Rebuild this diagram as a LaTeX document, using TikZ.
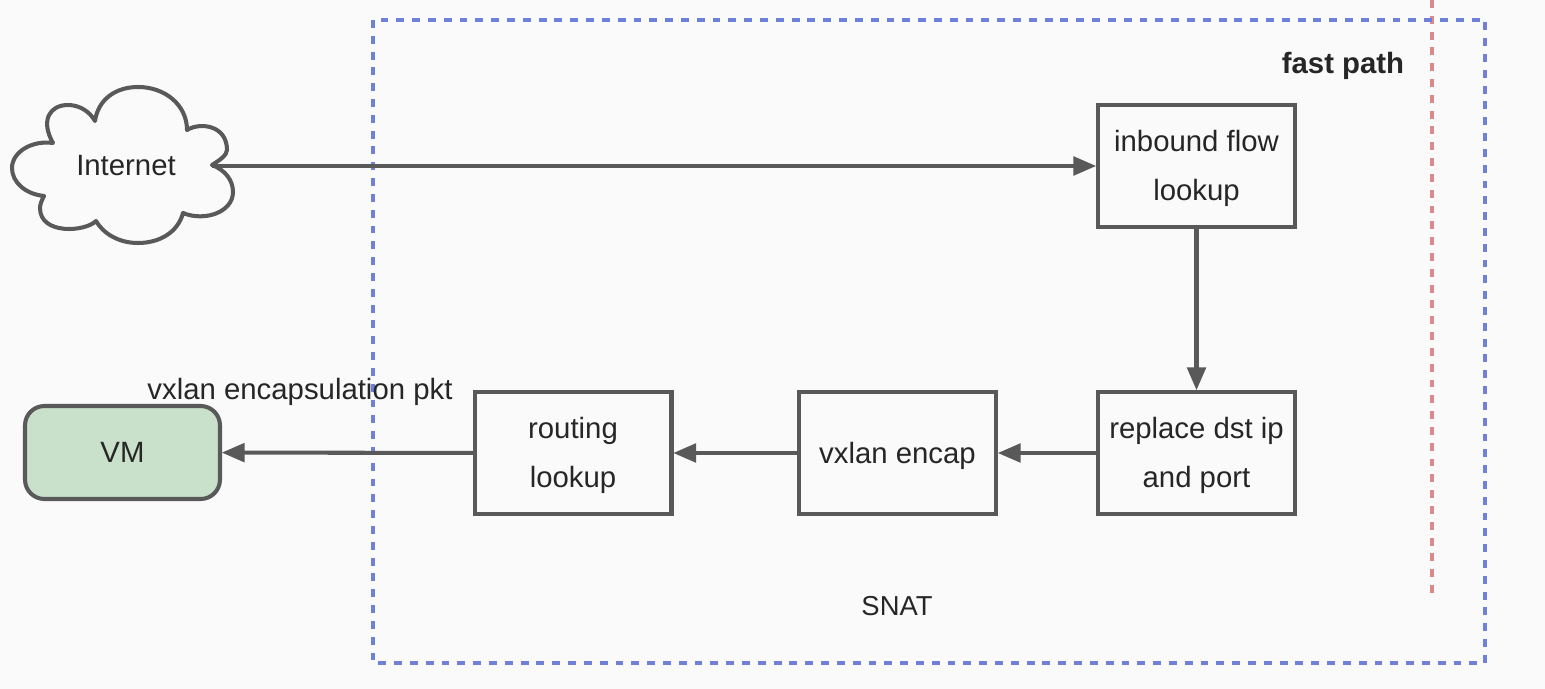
\documentclass[tikz,border=0pt]{standalone}
\usepackage{fontspec}
\setmainfont{Liberation Sans}
\usetikzlibrary{arrows.meta}
\definecolor{pagegray}{HTML}{FAFAFA}
\definecolor{linegray}{HTML}{595959}
\definecolor{textgray}{HTML}{262626}
\definecolor{pathblue}{HTML}{6F80D8}
\definecolor{limitred}{HTML}{DA8A8A}
\definecolor{vmgreen}{HTML}{C9E0CA}
\newcommand{\firstline}{\rule{0pt}{15pt}}
\tikzset{
  boxstyle/.style={draw=linegray,line width=2.3pt,align=center,text=textgray,minimum width=3.94cm,minimum height=2.44cm,inner sep=0pt,outer sep=0pt},
  labelstyle/.style={text=textgray,inner sep=0pt},
  flowstyle/.style={draw=linegray,line width=2.3pt,shorten >=1pt,-{Triangle[length=13pt,width=10.5pt]}}
}
\begin{document}
\begin{tikzpicture}[x=0.02cm,y=-0.02cm,font=\fontsize{16.7}{27.8}\selectfont]

  \useasboundingbox (0,0) rectangle (1545,689);
  \fill[pagegray] (0,0) rectangle (1545,689);

  \draw[limitred,line width=2.2pt,dash pattern=on 4.5pt off 4.5pt] (1432,0) -- (1432,595);
  \draw[pathblue,line width=2.2pt,dash pattern=on 4.5pt off 4.5pt] (373,20) rectangle (1485,663);

  % cloud
  \draw[linegray,line width=2.3pt,line join=round]
    (95,121) .. controls (98,100) and (115,87) .. (138,87)
    .. controls (165,87) and (187,105) .. (187,130)
    .. controls (200,122) and (227,125) .. (227,150)
    .. controls (227,155) and (220,160) .. (212,165)
    .. controls (225,170) and (233,180) .. (233,192)
    .. controls (233,212) and (205,222) .. (183,213)
    .. controls (178,232) and (160,243) .. (138,243)
    .. controls (118,243) and (103,233) .. (96,221)
    .. controls (85,232) and (40,235) .. (40,208)
    .. controls (40,204) and (42,200) .. (44,196)
    .. controls (25,194) and (12,182) .. (12,168)
    .. controls (12,152) and (32,140) .. (53,143)
    .. controls (40,120) and (50,105) .. (68,105)
    .. controls (80,105) and (90,112) .. (95,121)
    -- cycle;
  \coordinate (cloudport) at (212,166);

  \begin{scope}[every node/.style={boxstyle}]
    \node (inbound) at (1196.5,166) {\firstline inbound flow\\lookup};
    \node (replace) at (1196.5,453) {\firstline replace dst ip\\and port};
    \node (encap)   at (897.5,453)  {\firstline vxlan encap};
    \node (routing) at (573,453)    {\firstline routing\\lookup};
    \node[fill=vmgreen,rounded corners=11pt,minimum width=3.9cm,minimum height=1.86cm] (vm) at (122.5,452.5) {VM};
  \end{scope}

  \begin{scope}[every node/.style={labelstyle}]
    \node (internet) at (126,166) {Internet};
    \node (encaplabel) at (300,391.5) {vxlan encapsulation pkt};
    \node[font=\fontsize{15.6}{20}\selectfont] (snat) at (897,606) {SNAT};
    \node[font=\fontsize{16.7}{20}\selectfont\bfseries] (fastpath) at (1343,66) {fast path};
  \end{scope}

  \begin{scope}[every edge/.style={flowstyle}]
    \path (cloudport) edge (cloudport -| inbound.west);
    \path (inbound) edge (replace);
    \path (replace) edge (encap);
    \path (encap)   edge (routing);
    \path (routing) edge (vm);
  \end{scope}

\end{tikzpicture}
\end{document}
